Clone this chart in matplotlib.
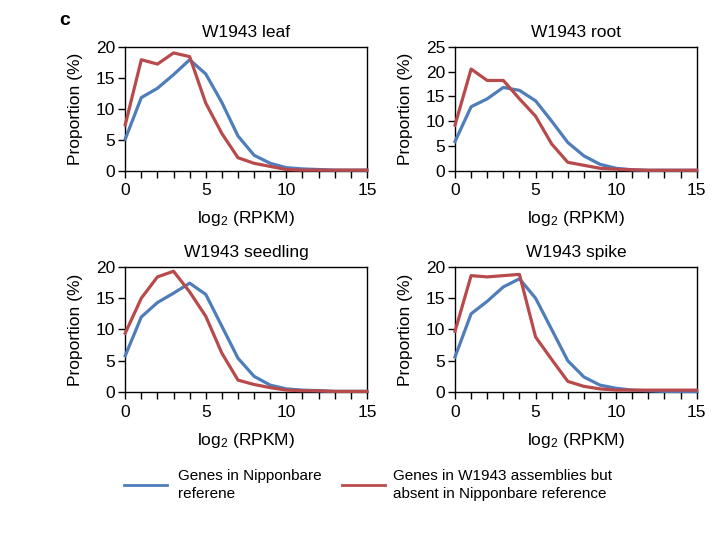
import numpy as np
import matplotlib
matplotlib.use('Agg')
import matplotlib.pyplot as plt
from matplotlib.lines import Line2D
from matplotlib.ticker import MultipleLocator

plt.rcParams['font.family'] = ['Liberation Sans', 'DejaVu Sans']
plt.rcParams['mathtext.fontset'] = 'custom'
plt.rcParams['mathtext.rm'] = 'Liberation Sans'
plt.rcParams['mathtext.it'] = 'Liberation Sans:italic'

x = np.arange(0, 16)

# values (%)
leaf_ref = [5.1, 11.8, 13.3, 15.5, 17.9, 15.6, 11.0, 5.6, 2.5, 1.2, 0.5, 0.3, 0.2, 0.1, 0.1, 0.1]
leaf_new = [7.4, 17.9, 17.2, 19.0, 18.4, 10.9, 6.0, 2.1, 1.2, 0.7, 0.2, 0.1, 0.1, 0.1, 0.1, 0.1]
root_ref = [5.9, 12.9, 14.5, 16.8, 16.2, 14.1, 10.0, 5.7, 3.0, 1.3, 0.5, 0.2, 0.1, 0.1, 0.1, 0.1]
root_new = [9.2, 20.5, 18.2, 18.2, 14.5, 11.0, 5.4, 1.7, 1.1, 0.5, 0.3, 0.2, 0.1, 0.1, 0.1, 0.1]
seed_ref = [5.8, 12.0, 14.3, 15.8, 17.4, 15.6, 10.5, 5.4, 2.5, 1.1, 0.5, 0.3, 0.2, 0.1, 0.1, 0.1]
seed_new = [9.4, 15.0, 18.4, 19.3, 16.0, 12.1, 6.2, 1.9, 1.2, 0.7, 0.3, 0.2, 0.2, 0.1, 0.1, 0.1]
spike_ref = [5.6, 12.5, 14.5, 16.8, 18.1, 15.0, 10.0, 5.0, 2.4, 1.1, 0.6, 0.3, 0.2, 0.1, 0.1, 0.1]
spike_new = [9.7, 18.6, 18.4, 18.6, 18.8, 8.8, 5.2, 1.7, 0.9, 0.5, 0.3, 0.3, 0.3, 0.3, 0.3, 0.3]

titles = ['W1943 leaf', 'W1943 root', 'W1943 seedling', 'W1943 spike']
ref_series = [leaf_ref, root_ref, seed_ref, spike_ref]
new_series = [leaf_new, root_new, seed_new, spike_new]
ymaxes = [20, 25, 20, 20]

blue = '#4f7dba'
red = '#b84a4c'
fs = 12.5

fig = plt.figure(figsize=(7.28, 5.37), dpi=100)
boxes = [[0.172, 0.682, 0.332, 0.231],
         [0.625, 0.682, 0.332, 0.231],
         [0.172, 0.270, 0.332, 0.233],
         [0.625, 0.270, 0.332, 0.233]]

for i in range(4):
    ax = fig.add_axes(boxes[i])
    ax.plot(x, ref_series[i], color=blue, lw=2.3, solid_joinstyle='round', clip_on=False, zorder=3)
    ax.plot(x, new_series[i], color=red, lw=2.3, solid_joinstyle='round', clip_on=False, zorder=3)
    ax.set_xlim(0, 15)
    ax.set_ylim(0, ymaxes[i])
    ax.xaxis.set_major_locator(MultipleLocator(5))
    ax.xaxis.set_minor_locator(MultipleLocator(1))
    ax.yaxis.set_major_locator(MultipleLocator(5))
    ax.tick_params(axis='x', which='both', direction='out', length=5, width=1, labelsize=fs, pad=4)
    ax.tick_params(axis='y', which='major', direction='out', length=5, width=1, labelsize=fs, pad=2)
    for s in ax.spines.values():
        s.set_linewidth(1)
    ax.set_title(titles[i], fontsize=fs, pad=7)
    ax.set_ylabel('Proportion (%)', fontsize=fs, labelpad=9)
    ax.set_xlabel(r'log$_2$ (RPKM)', fontsize=fs, labelpad=8)

fig.text(0.082, 0.962, 'c', fontsize=14, fontweight='bold', va='center')

# legend
ly = 1 - 485 / 537
fig.add_artist(Line2D([124 / 728, 167 / 728], [ly, ly], color=blue, lw=2))
fig.add_artist(Line2D([342 / 728, 385 / 728], [ly, ly], color=red, lw=2))
fig.text(178 / 728, ly, 'Genes in Nipponbare\nreferene', fontsize=11, va='center',
         linespacing=1.45)
fig.text(393 / 728, ly, 'Genes in W1943 assemblies but\nabsent in Nipponbare reference',
         fontsize=11, va='center', linespacing=1.45)

fig.savefig('out.png', dpi=100)
